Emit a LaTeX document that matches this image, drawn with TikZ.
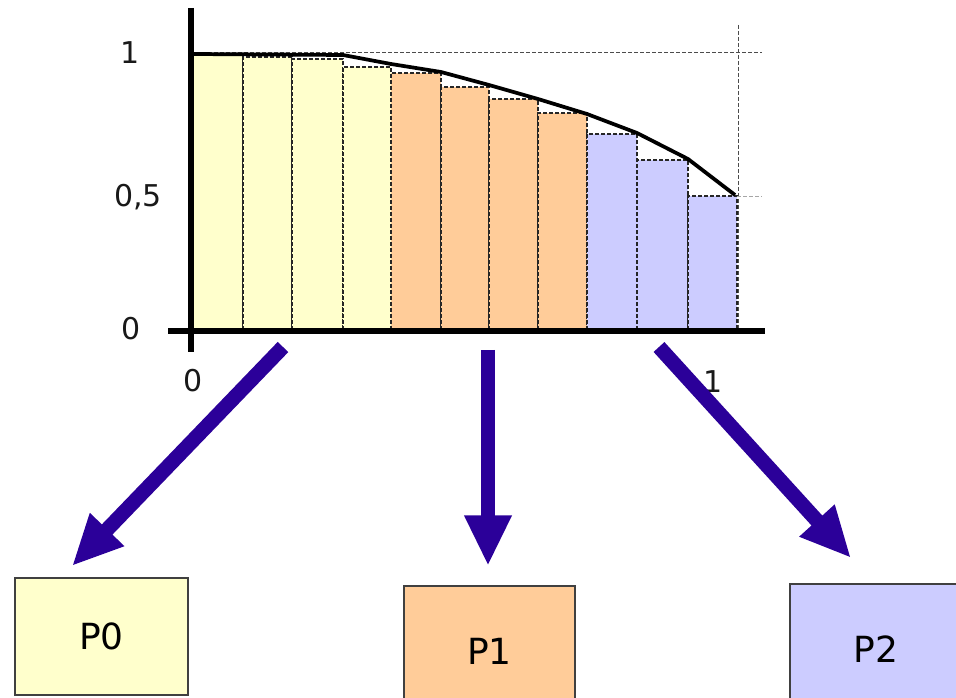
\documentclass[tikz,border=0pt]{standalone}
\usepackage{fontspec}
\setmainfont{DejaVu Sans}
\usetikzlibrary{arrows.meta}
\definecolor{cyel}{HTML}{FFFFCC}
\definecolor{cora}{HTML}{FFCC99}
\definecolor{clav}{HTML}{CCCCFF}
\definecolor{carr}{HTML}{2B0099}
\begin{document}
\begin{tikzpicture}[x=0.75pt,y=-0.75pt,
  bar/.style={draw=black!85,line width=0.9pt,dash pattern=on 3pt off 1.5pt},
  guide/.style={draw=black!70,line width=0.7pt,dash pattern=on 3pt off 1.5pt},
  axis/.style={line width=4pt,black},
  tick/.style={font=\fontsize{22.5}{25}\selectfont,text=black!90,inner sep=0pt},
  pbox/.style={draw=black!75,line width=0.9pt,font=\fontsize{27}{30}\selectfont,text=black,inner sep=0pt},
  bigarrow/.style={carr,line width=11pt,-{Triangle[width=33pt,length=38pt]}}]
\useasboundingbox (0,0) rectangle (956,698);
% bars
\foreach \xa/\xb/\yt/\c in {192/243/55/cyel,243/292/57/cyel,292/343/59/cyel,343/391/67/cyel,
  391/441/73/cora,441/489/87/cora,489/538/99/cora,538/587/113/cora,
  587/637/134/clav,637/688/160/clav,688/737/196/clav}{
  \fill[\c] (\xa,330) rectangle (\xb,\yt);
  \draw[bar] (\xa,330) rectangle (\xb,\yt);
}
% guides
\draw[guide] (190,52) -- (762,52);
\draw[guide] (738,25) -- (738,330);
\draw[guide,draw=black!35] (737,196) -- (762,196);
% curve
\draw[line width=2.8pt,line join=round] (192,54) -- (343,55) -- (391,64) -- (441,72) -- (489,85) -- (538,99) -- (587,114) -- (637,133) -- (688,159) -- (735,195);
% axes
\draw[axis] (191,8) -- (191,352);
\draw[axis] (168,331) -- (765,331);
% labels
\node[tick] (l1) at (130,53) {1};
\node[tick] (l05) at (138,197) {0,5};
\node[tick] (l0) at (131,329) {0};
\node[tick] (x0) at (193,381) {0};
\node[tick] (x1) at (713,382) {1};
% boxes
\node[pbox,fill=cyel,minimum width=173*0.75pt,minimum height=117*0.75pt] (p0) at (101.5,636.5) {P0};
\node[pbox,fill=cora,minimum width=171*0.75pt,minimum height=130*0.75pt] (p1) at (489.5,651) {P1};
\node[pbox,fill=clav,minimum width=172*0.75pt,minimum height=130*0.75pt] (p2) at (876,649) {P2};
% arrow coordinates
\coordinate (a0s) at (283,347);
\coordinate (a0e) at (72,566);
\coordinate (a1s) at (488,350);
\coordinate (a1e) at (488,566);
\coordinate (a2s) at (659,347);
\coordinate (a2e) at (851,558);
\draw[bigarrow] (a0s) -- (a0e);
\draw[bigarrow] (a1s) -- (a1e);
\draw[bigarrow] (a2s) -- (a2e);
\end{tikzpicture}
\end{document}
